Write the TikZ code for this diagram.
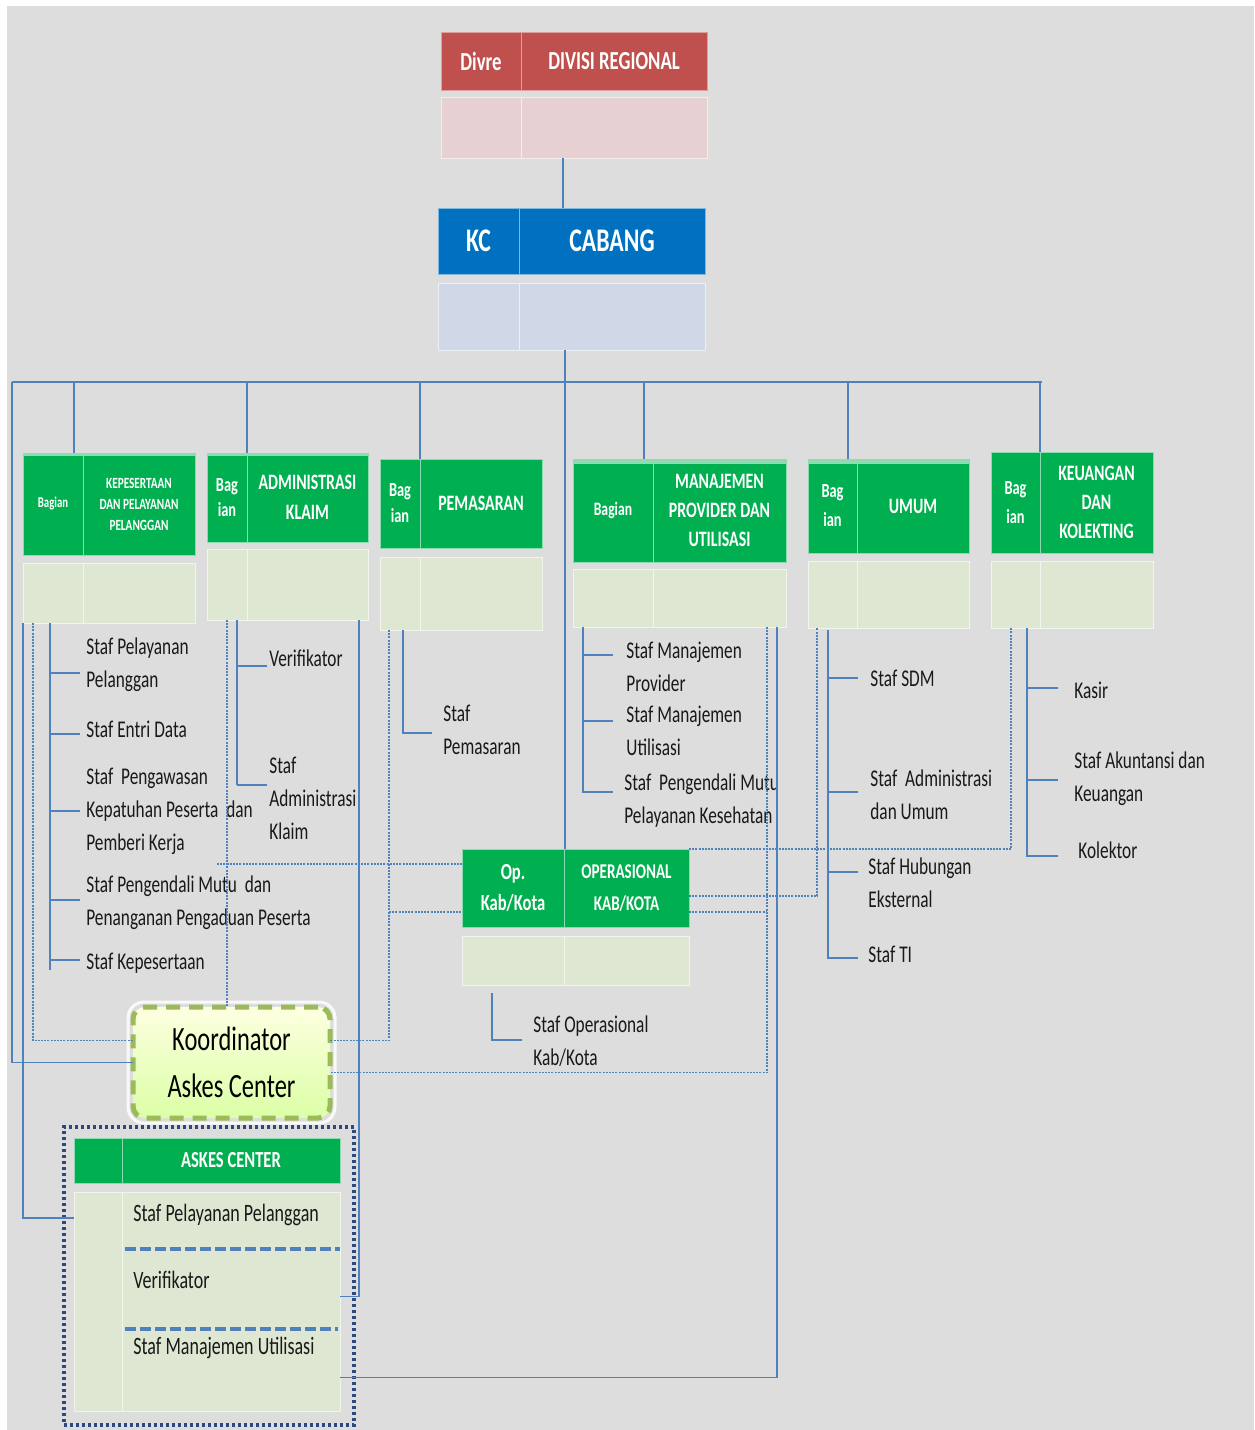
\documentclass[tikz,border=0pt]{standalone}
\usepackage{fontspec}
\setmainfont{Carlito}[FakeStretch=0.72]
\usetikzlibrary{calc}
\definecolor{bgc}{HTML}{DDDDDD}
\definecolor{redh}{HTML}{C0504D}
\definecolor{pinkb}{HTML}{E7D0D1}
\definecolor{blueh}{HTML}{0070C0}
\definecolor{blueb}{HTML}{D0D8E8}
\definecolor{greenh}{HTML}{00B050}
\definecolor{greenb}{HTML}{DEE7D2}
\definecolor{lnc}{HTML}{4F81BD}
\definecolor{koordc}{HTML}{9BBB59}
\definecolor{outc}{HTML}{2E4A7D}
\newcommand\fsz[2]{\fontsize{#1}{#2}\selectfont}
\newcommand\hfs[2]{\fontsize{#1}{#2}\selectfont\bfseries}
\newcommand\cell[7]{%
  \pgfmathsetmacro\cellw{(#4-#2)/2}%
  \pgfmathsetmacro\cellh{(#5-#3)/2}%
  \node[#6, minimum width=\cellw pt, minimum height=\cellh pt] (#1) at ({(#2+#4)/2},{(#3+#5)/2}) {#7};%
}
\begin{document}
\begin{tikzpicture}[x=0.5pt,y=-0.5pt,
  cellbase/.style={rectangle,inner sep=0pt,outer sep=0pt,align=center},
  rh/.style={cellbase,fill=redh,draw=redh!55!white,line width=0.5pt,text=white},
  rb/.style={cellbase,fill=pinkb,draw=pinkb!40!white,line width=0.4pt},
  bh/.style={cellbase,fill=blueh,draw=blueh!50!white,line width=0.5pt,text=white},
  bb/.style={cellbase,fill=blueb,draw=blueb!40!white,line width=0.4pt},
  gh/.style={cellbase,fill=greenh,draw=greenh!45!white,line width=0.5pt,text=white},
  gb/.style={cellbase,fill=greenb,draw=greenb!40!white,line width=0.4pt},
  conn/.style={draw=lnc,line width=0.7pt},
  dconn/.style={draw=lnc,line width=0.6pt,dash pattern=on 1pt off 0.6pt},
  stafftxt/.style={anchor=west,inner sep=0pt,align=left,text=black!90,font=\fsz{12}{16.5}},
  koordst/.style={cellbase,rounded corners=6pt,draw=koordc,line width=2.5pt,
     dash pattern=on 7pt off 4.5pt,top color=green!5!yellow!12!white,bottom color=green!40!yellow!35!white,
     text=black,font=\fsz{17}{23.5}},
  sepl/.style={draw=lnc,line width=2pt,dash pattern=on 5.5pt off 2pt},
]
\useasboundingbox (0,0) rectangle (1254,1430);
\fill[white] (0,0) rectangle (1254,1430);
\fill[bgc] (7,6) rectangle (1254,1430);

% ---- Divre
\cell{dvL}{441}{32}{521}{90}{rh,font=\hfs{13}{16}}{Divre}
\cell{dvR}{521}{32}{707}{90}{rh,font=\hfs{13}{16}}{DIVISI REGIONAL}
\cell{dvBL}{441}{97}{521}{158}{rb}{}
\cell{dvBR}{521}{97}{707}{158}{rb}{}
% ---- KC
\cell{kcL}{438}{208}{519}{274}{bh,font=\hfs{16.5}{20}}{KC}
\cell{kcR}{519}{208}{705}{274}{bh,font=\hfs{16.5}{20}}{CABANG}
\cell{kcBL}{438}{283}{519}{350}{bb}{}
\cell{kcBR}{519}{283}{705}{350}{bb}{}

% ---- departments
\cell{kepL}{23}{453}{83}{555}{gh,font=\hfs{7.5}{10}}{Bagian}
\cell{kepR}{83}{453}{195}{555}{gh,font=\hfs{7.8}{10.5}}{KEPESERTAAN\\DAN PELAYANAN\\PELANGGAN}
\cell{kepBL}{23}{563}{83}{623}{gb}{}
\cell{kepBR}{83}{563}{195}{623}{gb}{}

\cell{admL}{207}{453}{247}{542}{gh,font=\hfs{10}{12.5}}{Bag\\ian}
\cell{admR}{247}{453}{368}{542}{gh,font=\hfs{11}{15}}{ADMINISTRASI\\KLAIM}
\cell{admBL}{207}{549}{247}{620}{gb}{}
\cell{admBR}{247}{549}{368}{620}{gb}{}

\cell{pemL}{380}{459}{420}{548}{gh,font=\hfs{10}{13}}{Bag\\ian}
\cell{pemR}{420}{459}{542}{548}{gh,font=\hfs{11}{14}}{PEMASARAN}
\cell{pemBL}{380}{557}{420}{630}{gb}{}
\cell{pemBR}{420}{557}{542}{630}{gb}{}

\cell{manL}{573}{459}{653}{562}{gh,font=\hfs{9.5}{12}}{Bagian}
\cell{manR}{653}{459}{786}{562}{gh,font=\hfs{11}{14.5}}{MANAJEMEN\\PROVIDER DAN\\UTILISASI}
\cell{manBL}{573}{569}{653}{627}{gb}{}
\cell{manBR}{653}{569}{786}{627}{gb}{}

\cell{umuL}{808}{459}{857}{553}{gh,font=\hfs{10}{14.5}}{Bag\\ian}
\cell{umuR}{857}{459}{969}{553}{gh,font=\hfs{11}{14}}{UMUM}
\cell{umuBL}{808}{561}{857}{628}{gb}{}
\cell{umuBR}{857}{561}{969}{628}{gb}{}

\cell{keuL}{991}{452}{1040}{553}{gh,font=\hfs{10}{14.5}}{Bag\\ian}
\cell{keuR}{1040}{452}{1153}{553}{gh,font=\hfs{11}{14.5}}{KEUANGAN\\DAN\\KOLEKTING}
\cell{keuBL}{991}{561}{1040}{628}{gb}{}
\cell{keuBR}{1040}{561}{1153}{628}{gb}{}

% lighter top bands
\fill[greenh!45!white] (kepL.north west) rectangle ($(kepR.north east)+(0,3)$);
\fill[greenh!45!white] (admL.north west) rectangle ($(admR.north east)+(0,3)$);
\fill[greenh!45!white] (manL.north west) rectangle ($(manR.north east)+(0,5)$);
\fill[greenh!45!white] (umuL.north west) rectangle ($(umuR.north east)+(0,5)$);

% ---- Operasional
\cell{opL}{462}{849}{564}{927}{gh,font=\hfs{11.5}{15.5}}{Op.\\Kab/Kota}
\cell{opR}{564}{849}{689}{927}{gh,font=\hfs{10.5}{16}}{OPERASIONAL\\KAB/KOTA}
\cell{opBL}{462}{936}{564}{985}{gb}{}
\cell{opBR}{564}{936}{689}{985}{gb}{}

% ---- Askes center
\cell{askL}{74}{1138}{122}{1183}{gh}{}
\cell{askR}{122}{1138}{340}{1183}{gh,font=\hfs{11.5}{14}}{ASKES CENTER}
\cell{askBL}{74}{1192}{122}{1411}{gb}{}
\cell{askBR}{122}{1192}{340}{1411}{gb}{}
\cell{askOut}{64}{1127}{354}{1425}{cellbase,draw=outc,line width=2pt,dash pattern=on 1.5pt off 1.5pt}{}
\draw[sepl] (125,1249) -- (340,1249);
\draw[sepl] (125,1329) -- (338,1329);
\node[stafftxt,font=\fsz{12.5}{15}] (ac1) at (133,1215) {Staf Pelayanan Pelanggan};
\node[stafftxt,font=\fsz{12.5}{15}] (ac2) at (133,1280) {Verifikator};
\node[stafftxt,font=\fsz{12.5}{15}] (ac3) at (133,1348) {Staf Manajemen Utilisasi};

% ---- Koordinator
\cell{koord}{133}{1007}{330}{1118}{koordst}{Koordinator\\Askes Center}
\draw[white,line width=1.5pt,rounded corners=8pt,opacity=0.85] ($(koord.north west)+(-5,-5)$) rectangle ($(koord.south east)+(5,5)$);

% ---- staff texts
\node[stafftxt] (k1) at (86,665) {Staf Pelayanan\\Pelanggan};
\node[stafftxt] (k2) at (86,729) {Staf Entri Data};
\node[stafftxt] (k3) at (86,811) {Staf\ \ Pengawasan\\Kepatuhan Peserta\ \ dan\\Pemberi Kerja};
\node[stafftxt] (k4) at (86,903) {Staf Pengendali Mutu\ \ dan\\Penanganan Pengaduan Peserta};
\node[stafftxt] (k5) at (86,963) {Staf Kepesertaan};

\node[stafftxt] (a1) at (269,658) {Verifikator};
\node[stafftxt] (a2) at (269,798) {Staf\\Administrasi\\Klaim};

\node[stafftxt] (p1) at (443,730) {Staf\\Pemasaran};

\node[stafftxt] (m1) at (626,667) {Staf Manajemen\\Provider};
\node[stafftxt] (m2) at (626,731) {Staf Manajemen\\Utilisasi};
\node[stafftxt] (m3) at (624,801) {Staf\ \ Pengendali Mutu\\Pelayanan Kesehatan};

\node[stafftxt] (u1) at (870,678) {Staf SDM};
\node[stafftxt] (u2) at (870,795) {Staf\ \ Administrasi\\dan Umum};
\node[stafftxt] (u3) at (868,883) {Staf Hubungan\\Eksternal};
\node[stafftxt] (u4) at (868,954) {Staf TI};

\node[stafftxt] (q1) at (1074,690) {Kasir};
\node[stafftxt] (q2) at (1074,779) {Staf Akuntansi dan\\Keuangan};
\node[stafftxt] (q3) at (1078,850) {Kolektor};

\node[stafftxt] (o1) at (533,1041) {Staf Operasional\\Kab/Kota};

% ---- connectors
\draw[conn] ([xshift=21pt]dvBR.south west) -- ([xshift=21pt]dvBR.south west |- kcR.north);
\draw[conn] ([xshift=23pt]kcBR.south west) -- ([xshift=23pt]kcBR.south west |- opR.north);

\coordinate (busL) at (12,382);
\coordinate (busR) at (1042,382);
\draw[conn] (busL) -- (busR);
\coordinate (dKep) at ($(kepL.north east)+(-9,0)$);
\coordinate (dMan) at ($(manL.north east)+(-9,0)$);
\coordinate (dUmu) at ($(umuL.north east)+(-9,0)$);
\draw[conn] (dKep) -- (dKep |- busL);
\draw[conn] (admL.north east) -- (admL.north east |- busL);
\draw[conn] (pemL.north east) -- (pemL.north east |- busL);
\draw[conn] (dMan) -- (dMan |- busL);
\draw[conn] (dUmu) -- (dUmu |- busL);
\draw[conn] (keuL.north east) -- (keuL.north east |- busL);

% left side
\draw[conn] (busL) |- (koord.west);
\coordinate (aPel) at ($(askBL.north west)+(0,26)$);
\draw[conn] (kepBL.south west) |- (aPel);
\coordinate (k33) at ($(kepBL.south west)+(10,0)$);
\draw[dconn] (k33) |- ($(koord.west)+(0,-22)$);
\coordinate (kb) at ($(kepBL.south west)+(27,0)$);
\draw[conn] (kb) -- ($(kb)+(0,347)$);
\foreach \y in {673,734,811,900,960} \draw[conn] (50,\y) -- (80,\y);

% administrasi klaim
\coordinate (a227) at ($(admBL.south west)+(20,0)$);
\draw[dconn] (a227) -- (a227 |- koord.north);
\coordinate (ab) at ($(admBL.south west)+(30,0)$);
\draw[conn] (ab) -- ($(ab)+(0,165)$);
\foreach \y in {666,785} \draw[conn] (237,\y) -- (267,\y);
\coordinate (a359) at ($(admBR.south east)+(-9,0)$);
\draw[conn] (a359) |- ($(askBR.east)+(0,-5)$);

% pemasaran
\coordinate (p389) at ($(pemBL.south west)+(9,0)$);
\draw[dconn] (p389) |- ($(koord.east)+(0,-22)$);
\coordinate (oL2) at ($(opL.west)+(0,24)$);
\coordinate (oL1) at ($(opL.west)+(0,-24)$);
\draw[dconn] (p389 |- oL2) -- (oL2);
\draw[dconn] ($(a227 |- oL1)+(-10,0)$) -- (oL1);
\coordinate (pb) at ($(pemBL.south west)+(23,0)$);
\draw[conn] (pb) |- (432,733);

% manajemen
\coordinate (mb) at ($(manBL.south west)+(10,0)$);
\draw[conn] (mb) -- (583,792) -- (613,792);
\foreach \y in {655,721} \draw[conn] (583,\y) -- (613,\y);
\coordinate (m767) at ($(manBR.south east)+(-19,0)$);
\draw[dconn] (m767) |- ($(koord.east)+(0,10)$);
\draw[dconn] ($(opR.east)+(0,24)$) -- (m767 |- oL2);
\coordinate (m777) at ($(manBR.south east)+(-9,0)$);
\draw[conn] (m777) |- ($(askBR.east)+(0,76)$);

% operasional to umum / keuangan
\draw[dconn] (opR.north east) -| ($(keuBL.south west)+(20,0)$);
\draw[dconn] ($(opR.east)+(0,8)$) -| ($(umuBL.south west)+(9,0)$);
\coordinate (ob) at ($(opBL.south west)+(30,8)$);
\draw[conn] (ob) |- (522,1040);

% umum
\coordinate (ub) at ($(umuBL.south west)+(20,2)$);
\draw[conn] (ub) |- (858,958);
\foreach \y in {678,792,872} \draw[conn] (828,\y) -- (858,\y);

% keuangan
\coordinate (qb) at ($(keuBL.south west)+(36,0)$);
\draw[conn] (qb) |- (1058,856);
\foreach \y in {688,780} \draw[conn] (1027,\y) -- (1058,\y);
\end{tikzpicture}
\end{document}
